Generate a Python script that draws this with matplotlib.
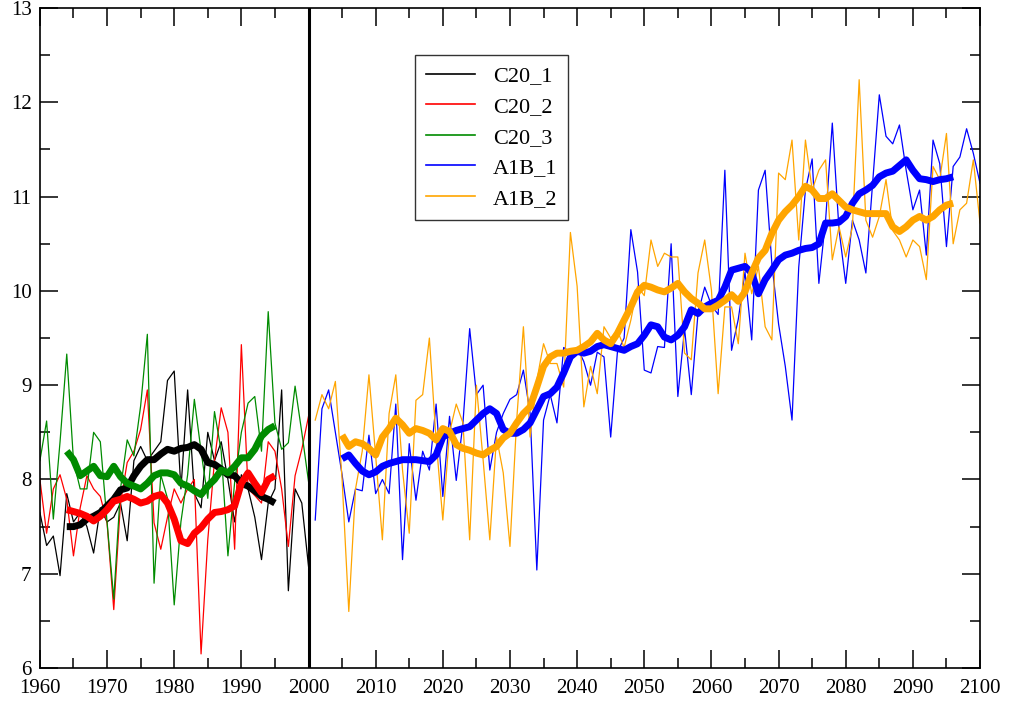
#!/usr/bin/env python3
import numpy as np
import matplotlib.pyplot as plt
from matplotlib.ticker import MultipleLocator

plt.rcParams["font.family"] = ["Liberation Serif", "DejaVu Serif"]

# ============================================================
# Annual temperatures, 20th century control runs (1960-2000)
# ============================================================
years_c20 = np.arange(1960, 2001)
years_c20_smooth = np.arange(1964, 1996)

c20_1 = [7.65, 7.30, 7.40, 6.98, 7.85, 7.55, 7.65, 7.50, 7.22, 7.70,
         7.55, 7.60, 7.75, 7.35, 8.20, 8.35, 8.20, 8.30, 8.40, 9.05,
         9.15, 7.90, 8.95, 7.85, 7.70, 8.50, 8.20, 8.40, 8.00, 7.55,
         8.05, 7.90, 7.60, 7.15, 7.75, 7.90, 8.95, 6.82, 7.90, 7.75,
         7.08]
c20_2 = [8.00, 7.43, 7.90, 8.05, 7.79, 7.19, 7.70, 8.04, 7.90, 7.82,
         7.54, 6.62, 7.75, 8.18, 8.30, 8.53, 8.95, 7.54, 7.26, 7.60,
         7.90, 7.75, 7.90, 8.00, 6.15, 7.36, 8.20, 8.76, 8.50, 7.26,
         9.43, 7.90, 7.83, 7.75, 8.40, 8.30, 7.90, 7.29, 8.04, 8.32,
         8.67]
c20_3 = [8.20, 8.62, 7.58, 8.40, 9.33, 8.20, 7.90, 7.90, 8.50, 8.40,
         7.55, 6.73, 7.90, 8.42, 8.25, 8.78, 9.54, 6.90, 8.05, 7.80,
         6.67, 7.55, 8.05, 8.85, 8.30, 7.80, 8.72, 8.30, 7.19, 7.97,
         8.50, 8.81, 8.88, 8.30, 9.78, 8.60, 8.32, 8.39, 8.99, 8.50,
         7.98]

# running means
c20_1_smooth = [7.50, 7.50, 7.52, 7.58, 7.61, 7.65, 7.72, 7.79, 7.89, 7.91,
                8.04, 8.14, 8.21, 8.21, 8.27, 8.32, 8.30, 8.33, 8.34, 8.37,
                8.32, 8.18, 8.16, 8.11, 8.05, 8.04, 7.96, 7.93, 7.88, 7.82,
                7.79, 7.75]
c20_2_smooth = [7.68, 7.66, 7.64, 7.61, 7.56, 7.61, 7.68, 7.77, 7.79, 7.82,
                7.79, 7.75, 7.77, 7.82, 7.84, 7.75, 7.58, 7.35, 7.32, 7.43,
                7.49, 7.58, 7.65, 7.66, 7.68, 7.72, 7.96, 8.07, 7.96, 7.86,
                8.00, 8.04]
c20_3_smooth = [8.30, 8.21, 8.04, 8.09, 8.14, 8.04, 8.03, 8.14, 8.03, 7.96,
                7.93, 7.90, 7.96, 8.04, 8.07, 8.07, 8.05, 7.96, 7.93, 7.88,
                7.84, 7.93, 8.00, 8.10, 8.07, 8.14, 8.23, 8.23, 8.32, 8.46,
                8.53, 8.57]

# ============================================================
# A1B scenario runs (2001-2100)
# ============================================================
years_a1b = np.arange(2001, 2101)
years_a1b_smooth = np.arange(2005, 2097)

a1b_1 = [7.57, 8.75, 8.95, 8.50, 8.05, 7.55, 7.90, 7.88, 8.47, 7.85,
         8.00, 7.85, 8.80, 7.15, 8.38, 7.78, 8.30, 8.10, 8.80, 7.82,
         8.67, 7.99, 8.60, 9.60, 8.90, 9.00, 8.10, 8.50, 8.70, 8.85,
         8.90, 9.16, 8.70, 7.04, 8.63, 8.90, 8.60, 9.40, 9.35, 9.40,
         9.25, 9.00, 9.35, 9.30, 8.45, 9.35, 9.50, 10.65, 10.20, 9.16,
         9.13, 9.41, 9.40, 10.50, 8.88, 9.60, 8.90, 9.76, 10.04, 9.85,
         9.75, 11.28, 9.37, 9.70, 10.20, 9.48, 11.07, 11.28, 10.29, 9.65,
         9.20, 8.63, 10.25, 11.07, 11.40, 10.08, 10.75, 11.78, 10.65, 10.08,
         10.75, 10.54, 10.19, 11.14, 12.08, 11.64, 11.56, 11.76, 11.28, 10.86,
         11.07, 10.38, 11.60, 11.35, 10.47, 11.32, 11.42, 11.72, 11.46, 11.14]
a1b_2 = [8.63, 8.90, 8.75, 9.04, 8.00, 6.60, 7.90, 8.30, 9.11, 8.25,
         7.36, 8.70, 9.11, 8.10, 7.43, 8.84, 8.90, 9.50, 8.42, 7.57,
         8.50, 8.80, 8.60, 7.36, 9.00, 8.21, 7.36, 8.45, 8.07, 7.29,
         8.63, 9.62, 8.45, 9.05, 9.44, 9.23, 9.23, 8.98, 10.62, 10.05,
         8.77, 9.20, 8.91, 9.62, 9.50, 9.58, 9.40, 9.69, 10.05, 9.95,
         10.54, 10.26, 10.40, 10.36, 10.36, 9.34, 9.27, 10.19, 10.54, 10.01,
         8.91, 9.83, 9.83, 9.44, 10.40, 9.97, 10.26, 9.62, 9.48, 11.25,
         11.18, 11.60, 10.54, 11.60, 11.07, 11.28, 11.39, 10.33, 10.68, 10.36,
         10.68, 12.24, 10.75, 10.57, 10.79, 11.18, 10.64, 10.54, 10.36, 10.54,
         10.47, 10.12, 11.32, 11.18, 11.67, 10.50, 10.86, 10.93, 11.39, 10.72]

a1b_1_smooth = [8.22, 8.26, 8.17, 8.09, 8.05, 8.08, 8.14, 8.17, 8.19, 8.21,
                8.21, 8.21, 8.20, 8.19, 8.26, 8.45, 8.49, 8.52, 8.54, 8.56,
                8.63, 8.70, 8.75, 8.70, 8.53, 8.49, 8.49, 8.53, 8.60, 8.74,
                8.88, 8.91, 8.98, 9.13, 9.30, 9.36, 9.34, 9.36, 9.41, 9.43,
                9.41, 9.39, 9.37, 9.41, 9.44, 9.53, 9.64, 9.62, 9.51, 9.48,
                9.53, 9.62, 9.80, 9.76, 9.83, 9.87, 9.90, 10.04, 10.22, 10.24,
                10.26, 10.19, 9.97, 10.12, 10.22, 10.33, 10.38, 10.40, 10.43, 10.45,
                10.46, 10.50, 10.72, 10.72, 10.73, 10.79, 10.93, 11.03, 11.07, 11.12,
                11.21, 11.25, 11.27, 11.33, 11.39, 11.28, 11.19, 11.18, 11.16, 11.18,
                11.19, 11.21]
a1b_2_smooth = [8.47, 8.35, 8.40, 8.38, 8.33, 8.26, 8.45, 8.54, 8.65, 8.58,
                8.49, 8.54, 8.52, 8.49, 8.42, 8.54, 8.51, 8.37, 8.33, 8.31,
                8.28, 8.26, 8.31, 8.35, 8.44, 8.49, 8.60, 8.70, 8.77, 8.98,
                9.20, 9.30, 9.34, 9.34, 9.36, 9.37, 9.41, 9.46, 9.55, 9.48,
                9.44, 9.55, 9.69, 9.83, 9.99, 10.06, 10.04, 10.01, 9.99, 10.03,
                10.08, 9.99, 9.92, 9.87, 9.81, 9.81, 9.85, 9.90, 9.96, 9.89,
                9.99, 10.19, 10.35, 10.43, 10.61, 10.75, 10.84, 10.91, 11.00, 11.11,
                11.07, 10.98, 10.98, 11.03, 10.96, 10.89, 10.86, 10.84, 10.82, 10.82,
                10.82, 10.82, 10.68, 10.63, 10.68, 10.75, 10.79, 10.75, 10.79, 10.86,
                10.91, 10.93]

GREEN = "#008b00"
ORANGE = "#ffa500"

runs = [
    ("C20_1", years_c20, c20_1, years_c20_smooth, c20_1_smooth, "black"),
    ("C20_2", years_c20, c20_2, years_c20_smooth, c20_2_smooth, "red"),
    ("C20_3", years_c20, c20_3, years_c20_smooth, c20_3_smooth, GREEN),
    ("A1B_1", years_a1b, a1b_1, years_a1b_smooth, a1b_1_smooth, "blue"),
    ("A1B_2", years_a1b, a1b_2, years_a1b_smooth, a1b_2_smooth, ORANGE),
]

fig = plt.figure(figsize=(10.23, 7.01), dpi=100)
ax = fig.add_axes([0.039, 0.047, 0.919, 0.9415])

# thin annual curves first, thick running means on top
for label, yr, vals, _, _, color in runs:
    ax.plot(yr, vals, color=color, lw=0.9, label=label)
for label, _, _, yr_s, vals_s, color in runs:
    ax.plot(yr_s, vals_s, color=color, lw=5.0, solid_capstyle="butt")

# separator between the historical and scenario periods
ax.axvline(2000, color="black", lw=2.2)

ax.set_xlim(1960, 2100)
ax.set_ylim(6, 13)
ax.xaxis.set_major_locator(MultipleLocator(10))
ax.xaxis.set_minor_locator(MultipleLocator(5))
ax.yaxis.set_major_locator(MultipleLocator(1))
ax.yaxis.set_minor_locator(MultipleLocator(0.5))
ax.tick_params(which="both", direction="in", top=True, right=True,
               labelsize=15, width=1.1)
ax.tick_params(which="major", length=13)
ax.tick_params(which="minor", length=7)
ax.tick_params(axis="x", pad=8)
ax.tick_params(axis="y", pad=6)
for sp in ax.spines.values():
    sp.set_linewidth(1.2)

leg = ax.legend(loc="upper left", bbox_to_anchor=(0.399, 0.929),
                borderaxespad=0, fontsize=16, frameon=True, fancybox=False,
                edgecolor="black", handlelength=2.2, labelspacing=0.45,
                borderpad=0.5, handletextpad=0.8)
leg.get_frame().set_linewidth(1.0)
for line in leg.get_lines():
    line.set_linewidth(1.2)

plt.savefig("out.png", dpi=100)
print("[+] Saved out.png")
